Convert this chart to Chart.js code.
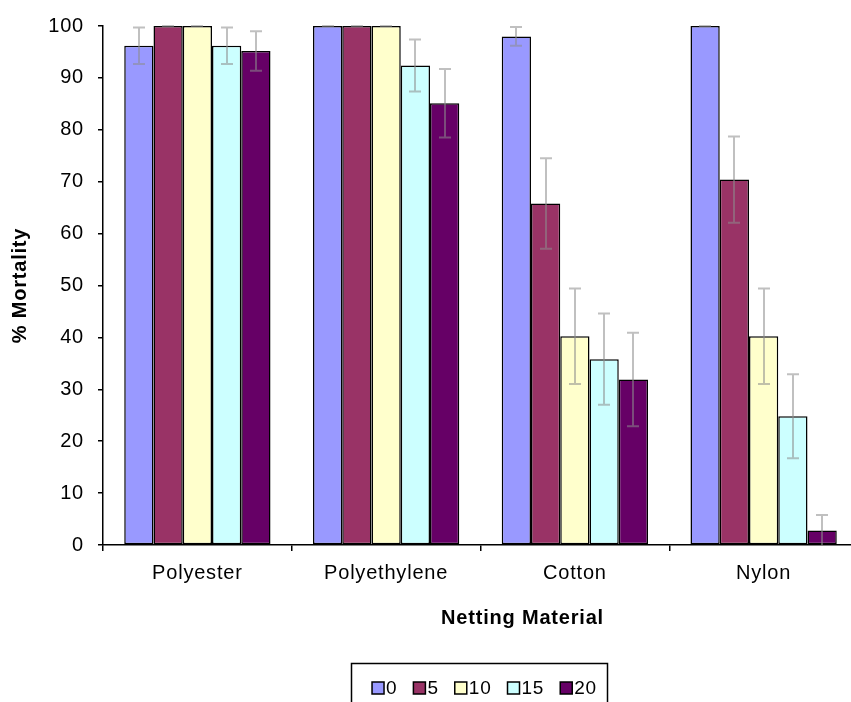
<!DOCTYPE html>
<html lang="en">
<head>
<meta charset="utf-8" />
<title>% Mortality by Netting Material</title>
<script src="https://cdn.jsdelivr.net/npm/chart.js"></script>
<style>
    html, body { margin: 0; padding: 0; background: #fff; overflow: hidden; }
    #wrap { position: relative; width: 851px; height: 702px; overflow: hidden; }
    #chart { position: absolute; left: 0; top: 0; }
</style>
</head>
<body>
<div id="wrap"><canvas id="chart" width="858" height="702"></canvas></div>

<script>
// categories on the x axis
var materials = ['Polyester', 'Polyethylene', 'Cotton', 'Nylon'];
// series names (legend)
var seriesNames = ['0', '5', '10', '15', '20'];
var seriesColors = ['#9999FF', '#993366', '#FFFFCC', '#CCFFFF', '#660066'];

// mean % mortality, one array per series
var mort0  = [96.2, 100, 98.0, 100];
var mort5  = [100, 100, 65.8, 70.4];
var mort10 = [100, 100, 40.2, 40.2];
var mort15 = [96.2, 92.4, 35.8, 24.8];
var mort20 = [95.2, 85.1, 31.9, 2.8];

// error bar half-lengths
var err0  = [3.5, 0, 1.8, 0];
var err5  = [0, 0, 8.7, 8.3];
var err10 = [0, 0, 9.2, 9.2];
var err15 = [3.5, 5.0, 8.8, 8.1];
var err20 = [3.8, 6.6, 9.0, 3.0];

var yTicks = [0, 10, 20, 30, 40, 50, 60, 70, 80, 90, 100];
var xTitle = 'Netting Material';

var allValues = [mort0, mort5, mort10, mort15, mort20];
var allErrors = [err0, err5, err10, err15, err20];

var FONT = '"Liberation Sans", Arial, sans-serif';
var SPACING = '0.8px';

var datasets = seriesNames.map(function (name, i) {
    return {
        label: name,
        data: allValues[i],
        backgroundColor: seriesColors[i],
        borderColor: '#000',
        borderWidth: 1.5,
        borderSkipped: false,
        categoryPercentage: 0.775,
        barPercentage: 1.0
    };
});

// slightly wider text, like the original export
var textSpacing = {
    id: 'textSpacing',
    beforeUpdate: function (chart) { chart.ctx.letterSpacing = SPACING; },
    beforeDraw: function (chart) { chart.ctx.letterSpacing = SPACING; }
};

// vertical error bars with caps
var errorBars = {
    id: 'errorBars',
    afterDatasetsDraw: function (chart) {
        var ctx = chart.ctx;
        var y = chart.scales.y;
        var area = chart.chartArea;
        ctx.save();
        ctx.beginPath();
        ctx.rect(area.left, area.top - 2, area.right - area.left, area.bottom - area.top + 2);
        ctx.clip();
        ctx.strokeStyle = 'rgba(140,140,140,0.55)';
        ctx.lineWidth = 2;
        allValues.forEach(function (vals, i) {
            var meta = chart.getDatasetMeta(i);
            meta.data.forEach(function (bar, j) {
                var e = allErrors[i][j];
                var yHi = y.getPixelForValue(vals[j] + e);
                var yLo = y.getPixelForValue(vals[j] - e);
                var x = Math.round(bar.x);
                ctx.beginPath();
                ctx.moveTo(x, yHi); ctx.lineTo(x, yLo);
                ctx.moveTo(x - 6, yHi); ctx.lineTo(x + 6, yHi);
                ctx.moveTo(x - 6, yLo); ctx.lineTo(x + 6, yLo);
                ctx.stroke();
            });
        });
        ctx.restore();
    }
};

// x axis title (sits right of centre in the original) and framed legend
var bottomText = {
    id: 'bottomText',
    afterDraw: function (chart) {
        var ctx = chart.ctx;
        var area = chart.chartArea;
        var mid = (area.left + area.right) / 2;
        ctx.save();
        ctx.letterSpacing = SPACING;
        ctx.fillStyle = '#000';
        ctx.textBaseline = 'middle';
        ctx.textAlign = 'center';
        ctx.font = 'bold 20px ' + FONT;
        ctx.fillText(xTitle, mid + 42, area.bottom + 73);

        ctx.textAlign = 'left';
        ctx.font = '19px ' + FONT;
        var box = 12, gapText = 2, gapItem = 16;
        var widths = seriesNames.map(function (n) { return box + gapText + ctx.measureText(n).width; });
        var total = widths.reduce(function (a, b) { return a + b; }, 0) + gapItem * (widths.length - 1);
        var x = mid - total / 2 + 4;
        var cy = 688;
        ctx.strokeStyle = '#000';
        ctx.lineWidth = 1.5;
        ctx.strokeRect(Math.round(x - 21) + 0.5, 663.5, Math.round(total + 31), 60);
        seriesNames.forEach(function (n, i) {
            ctx.fillStyle = seriesColors[i];
            ctx.fillRect(x, cy - box / 2, box, box);
            ctx.strokeStyle = '#000';
            ctx.lineWidth = 1.5;
            ctx.strokeRect(x, cy - box / 2, box, box);
            ctx.fillStyle = '#000';
            ctx.fillText(n, x + box + gapText, cy + 1);
            x += widths[i] + gapItem;
        });
        ctx.restore();
    }
};

var chart = new Chart(document.getElementById('chart').getContext('2d'), {
    type: 'bar',
    data: { labels: materials, datasets: datasets },
    plugins: [textSpacing, errorBars, bottomText],
    options: {
        responsive: false,
        animation: false,
        layout: { padding: { top: 25, right: 0, bottom: 47, left: 0 } },
        plugins: {
            legend: { display: false },
            tooltip: { enabled: false }
        },
        scales: {
            x: {
                afterFit: function (s) { s.height = 110; },
                border: { color: '#000', width: 1.5 },
                grid: { offset: true, drawOnChartArea: false, drawTicks: true, tickLength: 6, color: '#000', lineWidth: 1.5 },
                ticks: { color: '#000', font: { family: FONT, size: 20 }, padding: 10, maxRotation: 0 },
                title: { display: false }
            },
            y: {
                min: 0, max: 100,
                afterFit: function (s) { s.width = 103; },
                afterBuildTicks: function (s) { s.ticks = yTicks.map(function (v) { return { value: v }; }); },
                border: { color: '#000', width: 1.5 },
                grid: { drawOnChartArea: false, drawTicks: true, tickLength: 5, color: '#000', lineWidth: 1.5 },
                ticks: { color: '#000', font: { family: FONT, size: 20 }, padding: 14 },
                title: {
                    display: true, text: '% Mortality', color: '#000',
                    font: { family: FONT, size: 20, weight: 'bold' },
                    padding: { top: 8, bottom: 0 }
                }
            }
        }
    }
});
</script>
</body>
</html>
